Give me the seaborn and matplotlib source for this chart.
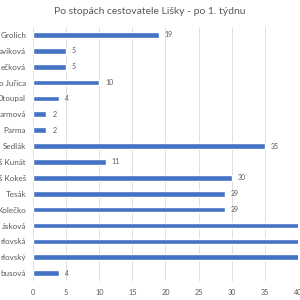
import matplotlib
matplotlib.use("Agg")
import matplotlib.pyplot as plt
import seaborn as sns
import pandas as pd

names = ["Grolich", "avíková", "ečková", "o Juřica", "Otoupal", "armová", "Parma",
         "Sedlák", "š Kunát", "š Kokeš", "Tesák", "Kolečko", "ásková", "rlovská",
         "rlovský", "busová"]
values = [19, 5, 5, 10, 4, 2, 2, 35, 11, 30, 29, 29, 46, 44, 42, 4]
x_ticks = [0, 5, 10, 15, 20, 25, 30, 35, 40]
title = "Po stopách cestovatele Lišky - po 1. týdnu"

df = pd.DataFrame({"name": names, "value": values})

sns.set_theme(style="white")
plt.rcParams["font.family"] = ["Lato", "DejaVu Sans"]

fig = plt.figure(figsize=(3, 3), dpi=100)
ax = fig.add_axes([0.11, 0.063, 0.883, 0.847])
sns.barplot(data=df, x="value", y="name", orient="h", color="#4472C4",
            width=0.36, saturation=1, ax=ax)
ax.set_xlim(0, 40)
ax.set_xticks(x_ticks)
ax.set_xticklabels([str(t) for t in x_ticks], fontsize=5.2, color="#595959")
ax.tick_params(axis="y", labelsize=5.8, labelcolor="#595959", length=0, pad=5)
ax.tick_params(axis="x", length=0, pad=6)
ax.set_xlabel("")
ax.set_ylabel("")
for s in ax.spines.values():
    s.set_visible(False)
ax.grid(axis="x", color="#D9D9D9", linewidth=0.6)
ax.set_axisbelow(True)
for i, v in enumerate(values):
    if v <= 40:
        ax.text(v + 0.9, i, str(v), va="center", ha="left", fontsize=5, color="#595959")
fig.text(0.5, 0.96, title, ha="center", va="center", fontsize=7.5, color="#595959")
fig.savefig("out.png", dpi=100)
